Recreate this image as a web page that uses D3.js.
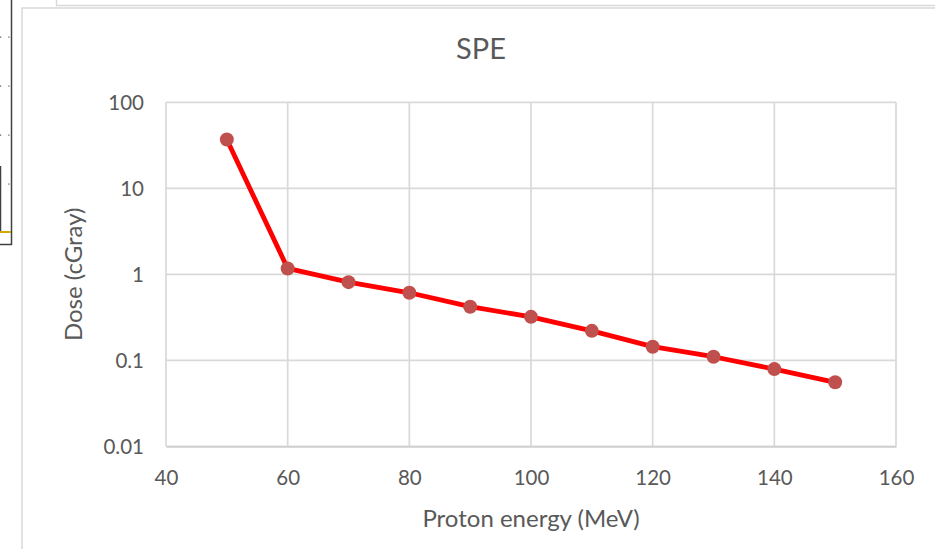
<!DOCTYPE html>
<html>
<head>
<meta charset="utf-8">
<script src="https://cdn.jsdelivr.net/npm/d3@7"></script>
<style>
  html, body { margin: 0; padding: 0; background: #fff; }
  svg { display: block; }
  text { font-family: Lato, "Open Sans", sans-serif; fill: #595959; }
</style>
</head>
<body>
<svg id="chart" width="935" height="549"></svg>
<script>
// Proton energy (MeV) and dose (cGray) for the SPE spectrum
const energies = [50, 60, 70, 80, 90, 100, 110, 120, 130, 140, 150];
const doses = [37, 1.17, 0.81, 0.61, 0.42, 0.32, 0.22, 0.144, 0.11, 0.079, 0.0555];
const xTicks = [40, 60, 80, 100, 120, 140, 160];
const yTicks = [0.01, 0.1, 1, 10, 100];
const yTickLabels = ["0.01", "0.1", "1", "10", "100"];

const svg = d3.select("#chart");
const W = 935, H = 549;
const plot = { left: 166, right: 896, top: 102.3, bottom: 446.3 };

svg.append("rect").attr("width", W).attr("height", H).attr("fill", "#fff");

// neighbouring window pieces at the left edge
const side = svg.append("g");
side.append("line").attr("x1", 11.5).attr("x2", 11.5).attr("y1", 0).attr("y2", 245)
  .attr("stroke", "#404040").attr("stroke-width", 1.5);
side.append("line").attr("x1", 0).attr("x2", 12).attr("y1", 244.5).attr("y2", 244.5)
  .attr("stroke", "#404040").attr("stroke-width", 1.5);
side.append("line").attr("x1", 0.5).attr("x2", 0.5).attr("y1", 166).attr("y2", 231)
  .attr("stroke", "#404040").attr("stroke-width", 1.5);
side.append("line").attr("x1", 0).attr("x2", 11).attr("y1", 232).attr("y2", 232)
  .attr("stroke", "#d4aa00").attr("stroke-width", 2);
[37, 86, 135, 184].forEach(y => {
  side.append("rect").attr("x", 0).attr("y", y - 0.5).attr("width", 1.2).attr("height", 1.2).attr("fill", "#555");
  side.append("rect").attr("x", 8.3).attr("y", y - 0.5).attr("width", 1.2).attr("height", 1.2).attr("fill", "#555");
});

// chart frame
const frame = svg.append("g").attr("fill", "none").attr("stroke", "#d9d9d9").attr("stroke-width", 1.5);
frame.append("path").attr("d", "M56.5,0 V5.5 H935");
frame.append("path").attr("d", "M22,549 V8 H935");

// scales
const x = d3.scaleLinear().domain([40, 160]).range([plot.left, plot.right]);
const y = d3.scaleLog().domain([0.01, 100]).range([plot.bottom, plot.top]);

// gridlines
const grid = svg.append("g").attr("stroke", "#d9d9d9").attr("stroke-width", 1.7);
xTicks.forEach(t => grid.append("line")
  .attr("x1", x(t)).attr("x2", x(t)).attr("y1", plot.top).attr("y2", plot.bottom));
yTicks.forEach(t => grid.append("line")
  .attr("x1", plot.left).attr("x2", plot.right).attr("y1", y(t)).attr("y2", y(t)));

// axes (labels only, lines handled by the grid)
const xAxis = d3.axisBottom(x).tickValues(xTicks).tickSize(0).tickPadding(0).tickFormat(d3.format("d"));
const gx = svg.append("g").attr("transform", `translate(0,${plot.bottom})`).call(xAxis);
gx.select(".domain").attr("stroke", "#d0d0d0").attr("stroke-width", 1.7);
gx.selectAll("text").attr("dy", null).attr("y", 39).attr("font-size", 20.5)
  .style("font-family", "Lato, 'Open Sans', sans-serif").attr("fill", "#595959");

const yAxis = d3.axisLeft(y).tickValues(yTicks).tickSize(0).tickPadding(0)
  .tickFormat((d, i) => yTickLabels[i]);
const gy = svg.append("g").attr("transform", `translate(${plot.left},0)`).call(yAxis);
gy.select(".domain").remove();
gy.selectAll("text").attr("x", -22).attr("dy", "0.36em").attr("font-size", 20.5)
  .style("font-family", "Lato, 'Open Sans', sans-serif").attr("fill", "#595959");

// series line and markers
const pts = energies.map((e, i) => [e, doses[i]]);
svg.append("path").datum(pts)
  .attr("d", d3.line().x(d => x(d[0])).y(d => y(d[1])))
  .attr("fill", "none").attr("stroke", "#ff0000").attr("stroke-width", 4.8)
  .attr("stroke-linejoin", "round");
svg.append("g").selectAll("circle").data(pts).join("circle")
  .attr("cx", d => x(d[0])).attr("cy", d => y(d[1])).attr("r", 7)
  .attr("fill", "#c0504d");

// titles
svg.append("text").attr("x", 481).attr("y", 59).attr("text-anchor", "middle")
  .attr("font-size", 29).text("SPE");
svg.append("text").attr("x", (plot.left + plot.right) / 2).attr("y", 527).attr("text-anchor", "middle")
  .attr("font-size", 24).text("Proton energy (MeV)");
svg.append("text").attr("transform", `translate(82,${(plot.top + plot.bottom) / 2}) rotate(-90)`)
  .attr("text-anchor", "middle").attr("font-size", 24).text("Dose (cGray)");
</script>
</body>
</html>
